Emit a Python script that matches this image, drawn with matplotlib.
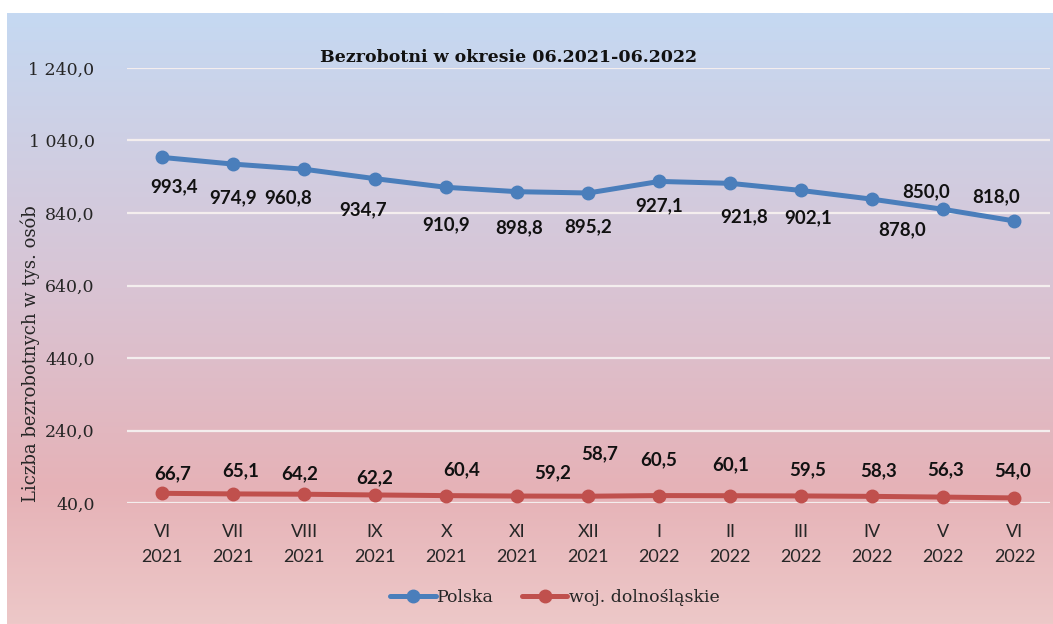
import numpy as np
import matplotlib
matplotlib.use("Agg")
import matplotlib.pyplot as plt
from matplotlib.ticker import FuncFormatter, FixedLocator
from matplotlib.colors import LinearSegmentedColormap

# ---- data ----
months = ["VI", "VII", "VIII", "IX", "X", "XI", "XII", "I", "II", "III", "IV", "V", "VI"]
years = ["2021"] * 7 + ["2022"] * 6
polska = [993.4, 974.9, 960.8, 934.7, 910.9, 898.8, 895.2, 927.1, 921.8, 902.1, 878.0, 850.0, 818.0]
dolnoslaskie = [66.7, 65.1, 64.2, 62.2, 60.4, 59.2, 58.7, 60.5, 60.1, 59.5, 58.3, 56.3, 54.0]
y_ticks = [40, 240, 440, 640, 840, 1040, 1240]
title = "Bezrobotni w okresie 06.2021-06.2022"
ylabel = "Liczba bezrobotnych w tys. osób"
series_names = ["Polska", "woj. dolnośląskie"]

# ---- label offsets (pixels, style only) ----
pl_off = [(12, -29), (0, -34), (-16, -29), (-12, -31), (0, -37), (2, -36), (0, -34),
          (0, -24), (14, -33), (7, -27), (30, -31), (-17, 18), (-18, 24)]
dl_off = [(11, 20), (8, 23), (-4, 20), (0, 17), (16, 26), (35, 23), (11, 42),
          (-1, 36), (0, 31), (6, 26), (6, 26), (2, 27), (-2, 27)]

SERIF = "DejaVu Serif"
W, H = 1053, 624
fig = plt.figure(figsize=(W / 100, H / 100), dpi=100)
fig.patch.set_facecolor("white")

# gradient background
bg = fig.add_axes([7 / W, 0, 1 - 7 / W, (H - 13) / H])
bg.set_axis_off()
cmap = LinearSegmentedColormap.from_list(
    "g", [(0.0, "#c5d9f2"), (0.45, "#d9c4d4"), (0.78, "#e6b2b7"), (1.0, "#edc8c8")])
grad = np.linspace(0, 1, 256).reshape(-1, 1)
bg.imshow(grad, aspect="auto", cmap=cmap, extent=[0, 1, 1, 0])
bg.set_zorder(-10)

x = np.arange(len(months))
ax = fig.add_axes([126.5 / W, 1 - 503 / H, (1050 - 126.5) / W, (503 - 68) / H])
ax.set_facecolor("none")
ax.set_xlim(-0.5, len(months) - 0.5)
ax.set_ylim(40, 1240)
for s in ax.spines.values():
    s.set_visible(False)

ax.yaxis.set_major_locator(FixedLocator(y_ticks))
def fmt(v, pos):
    return f"{v:,.1f}".replace(",", " ").replace(".", ",")
ax.yaxis.set_major_formatter(FuncFormatter(fmt))
ax.grid(axis="y", color="#f4eeee", linewidth=1.6)
ax.set_axisbelow(True)
ax.tick_params(axis="y", length=0, pad=23, labelsize=12.5, labelcolor="#262626")
for t in ax.get_yticklabels():
    t.set_fontfamily(SERIF)

ax.set_xticks(x)
ax.set_xticklabels([f"{m}\n{y}" for m, y in zip(months, years)],
                   fontfamily="Lato", fontsize=13, color="#262626", linespacing=1.7)
ax.tick_params(axis="x", length=0, pad=15)

blue = "#4a7ebb"
red = "#c0504d"
l1, = ax.plot(x, polska, color=blue, lw=3.6, marker="o", ms=9, label=series_names[0],
              clip_on=False, solid_capstyle="round")
l2, = ax.plot(x, dolnoslaskie, color=red, lw=3.6, marker="o", ms=9, label=series_names[1],
              clip_on=False, solid_capstyle="round")

for xi, v, off in zip(x, polska, pl_off):
    ax.annotate(f"{v:.1f}".replace(".", ","), (xi, v), xytext=off, textcoords="offset pixels",
                ha="center", va="center", fontfamily="Lato", fontweight="bold",
                fontsize=13.5, color="#111111")
for xi, v, off in zip(x, dolnoslaskie, dl_off):
    ax.annotate(f"{v:.1f}".replace(".", ","), (xi, v), xytext=off, textcoords="offset pixels",
                ha="center", va="center", fontfamily="Lato", fontweight="bold",
                fontsize=13.5, color="#111111")

fig.text(508 / W, 1 - 57 / H, title, ha="center", va="center",
         fontfamily=SERIF, fontweight="bold", fontsize=12.5, color="#111111")
fig.text(30 / W, 1 - 354 / H, ylabel, ha="center", va="center", rotation=90,
         fontfamily=SERIF, fontsize=13, color="#262626")

leg = fig.legend(handles=[l1, l2], loc="center", bbox_to_anchor=(555 / W, 1 - 598 / H),
                 ncol=2, frameon=False, handlelength=2.6, columnspacing=1.6,
                 handletextpad=0.1, prop={"family": SERIF, "size": 12.5})
for t in leg.get_texts():
    t.set_color("#262626")

fig.savefig("out.png", dpi=100)
